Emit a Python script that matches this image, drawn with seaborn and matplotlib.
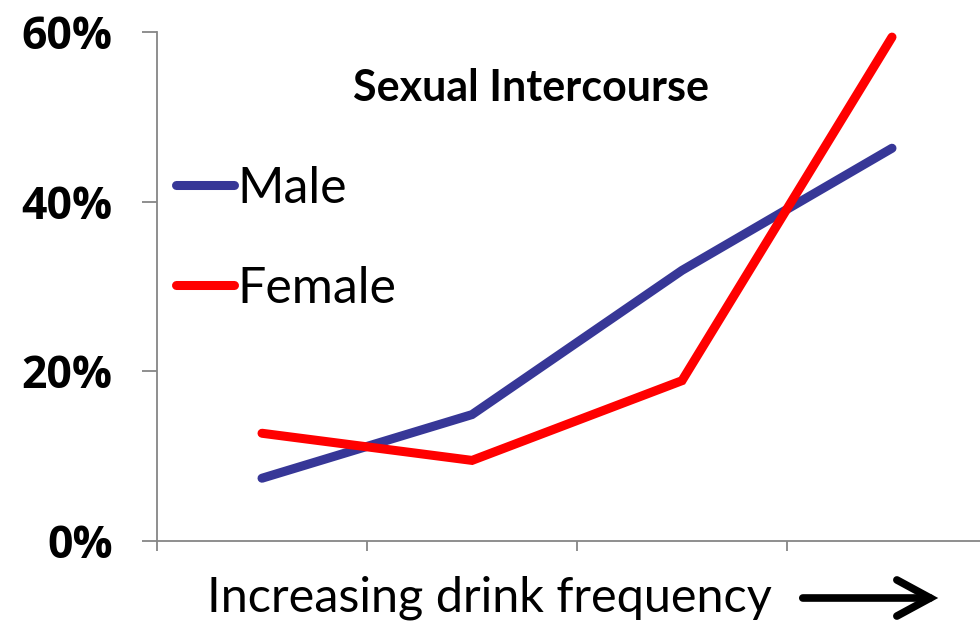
import matplotlib
matplotlib.use("Agg")
import matplotlib.pyplot as plt
import seaborn as sns
import pandas as pd
from matplotlib.ticker import FuncFormatter

categories = [0, 1, 2, 3]
male = [7.4, 14.9, 31.9, 46.3]
female = [12.7, 9.5, 18.9, 59.4]
y_ticks = [0, 20, 40, 60]
title = "Sexual Intercourse"
xlabel = "Increasing drink frequency"

df = pd.DataFrame({
    "cat": categories * 2,
    "value": male + female,
    "sex": ["Male"] * 4 + ["Female"] * 4,
})

sns.set_style("white")
plt.rcParams["font.family"] = ["Lato", "DejaVu Sans"]
plt.rcParams["text.color"] = "black"

W, H = 980, 624
fig = plt.figure(figsize=(9.8, 6.24), dpi=100)
ax = fig.add_axes([157 / W, 83 / H, 840 / W, 509 / H])

sns.lineplot(data=df, x="cat", y="value", hue="sex",
             palette={"Male": "#373797", "Female": "#FF0000"},
             linewidth=6.5, ax=ax, legend=True, sort=False)
for ln in ax.get_lines():
    ln.set_solid_capstyle("round")
    ln.set_solid_joinstyle("miter")

ax.set_xlim(-0.5, 3.5)
ax.set_ylim(0, 60)
ax.set_yticks(y_ticks)
ax.yaxis.set_major_formatter(FuncFormatter(lambda v, p: f"{int(v)}%"))
ax.set_xticks([-0.5, 0.5, 1.5, 2.5, 3.5])
ax.set_xticklabels([])
for lab in ax.get_yticklabels():
    lab.set_fontfamily("Open Sans")
    lab.set_fontweight("bold")
    lab.set_fontsize(32)
    lab.set_color("black")
ax.tick_params(axis="y", length=11, width=1.3, color="#868686", pad=21, direction="out", left=True,
               labelcolor="black")
ax.tick_params(axis="x", length=7, width=1.3, color="#868686", direction="out", bottom=True)
for s in ["top", "right"]:
    ax.spines[s].set_visible(False)
for s in ["left", "bottom"]:
    ax.spines[s].set_color("#868686")
    ax.spines[s].set_linewidth(1.3)
ax.set_xlabel("")
ax.set_ylabel("")

handles, labels = ax.get_legend_handles_labels()
leg = ax.legend(handles=handles, labels=labels,
                loc="upper left", bbox_to_anchor=(176 / W, 1 - 166 / H), bbox_transform=fig.transFigure,
                frameon=False, fontsize=36, handlelength=1.15, handletextpad=0.08,
                labelspacing=1.08, borderpad=0, borderaxespad=0)
for t in leg.get_texts():
    t.set_color("black")
for h in leg.get_lines():
    h.set_linewidth(6.5)
    h.set_solid_capstyle("round")

fig.text(531 / W, 1 - 88 / H, title, ha="center", va="center",
         fontsize=31, fontweight="bold", color="black")
fig.text(489 / W, 1 - 598 / H, xlabel, ha="center", va="center",
         fontsize=35, color="black")
fig.patches.append(matplotlib.patches.FancyArrowPatch(
    (800 / W, 1 - 598 / H), (941 / W, 1 - 598 / H), transform=fig.transFigure,
    arrowstyle="->,head_length=1.2,head_width=0.65", lw=5.5, color="black",
    mutation_scale=20, capstyle="round", joinstyle="miter"))

fig.savefig("out.png", dpi=100)
